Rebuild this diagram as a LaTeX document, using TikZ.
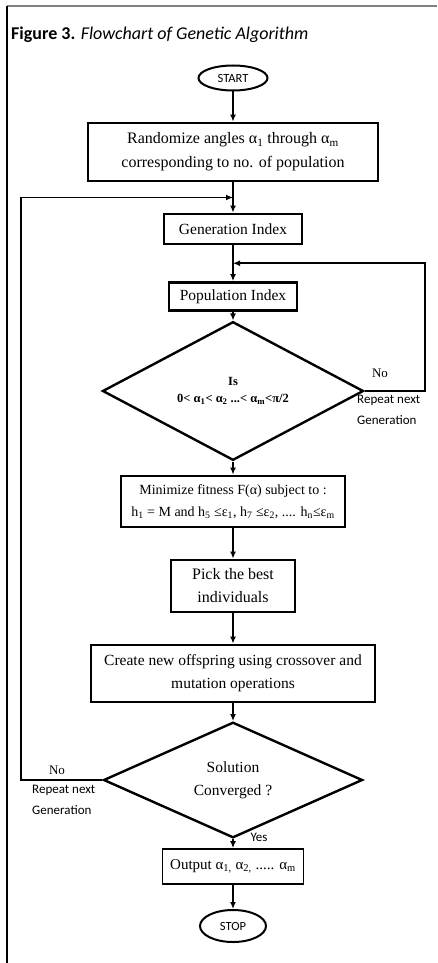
\documentclass[tikz,border=0pt]{standalone}
\usepackage{fontspec}
\setmainfont{Liberation Serif}
\newfontfamily\labelfont{Carlito}
\usetikzlibrary{shapes.geometric,arrows.meta,calc}
\tikzset{stepbox/.style={draw,line width=2.8pt,inner sep=0pt,align=center,font=\fontsize{15.5}{23}\selectfont}}
\tikzset{decision/.style={draw,diamond,line width=2.4pt,inner sep=0pt,align=center}}
\tikzset{terminal/.style={draw,ellipse,line width=2pt,inner sep=0pt,font=\labelfont\fontsize{12.5}{14}\selectfont}}
\tikzset{flow/.style={line width=1.8pt,-{Latex[length=7pt,width=6pt]}}}
\tikzset{remark/.style={inner sep=0pt,align=left,font=\labelfont\fontsize{13}{21}\selectfont}}

\begin{document}
\begin{tikzpicture}[x=1pt,y=-1pt]
	    \useasboundingbox (0,0) rectangle (438,963);
	    \draw[gray,line width=1.5pt] (7,6) -- (437,6);
	    \draw[line width=1.5pt] (7,6) -- (7,963);
	    \node[anchor=base west,inner sep=0pt,font=\labelfont\fontsize{18}{20}\selectfont] (title) at (11,40) {\textbf{Figure 3.} \textit{Flowchart of Genetic Algorithm}};
	    \node[terminal,minimum width=69,minimum height=25] (start) at (233,78) {START};
	    \node[stepbox,minimum width=290,minimum height=58,font=\fontsize{16}{24}\selectfont] (rand) at (233,152) {Randomize angles α\textsubscript{1} through α\textsubscript{m}\\corresponding to no. of population};
	    \node[stepbox,minimum width=138,minimum height=30] (gen) at (233,229) {Generation Index};
	    \node[stepbox,minimum width=128,minimum height=28] (pop) at (233,296.5) {Population Index};
	    \node[decision,minimum width=261,minimum height=88,font=\bfseries\fontsize{12.5}{17}\selectfont] (check) at (233,391) {Is\\0< α\textsubscript{1}< α\textsubscript{2} ...< α\textsubscript{m}<π/2};
	    \node[stepbox,minimum width=224,minimum height=51,font=\fontsize{14}{22}\selectfont] (fit) at (233,501.5) {Minimize fitness F(α) subject to :\\h\textsubscript{1} = M and h\textsubscript{5} ≤ε\textsubscript{1}, h\textsubscript{7} ≤ε\textsubscript{2}, .... h\textsubscript{n}≤ε\textsubscript{m}};
	    \node[stepbox,minimum width=124,minimum height=52,font=\fontsize{16}{23}\selectfont] (pick) at (233,586) {Pick the best\\individuals};
	    \node[stepbox,minimum width=284,minimum height=57] (create) at (233,673.5) {Create new offspring using crossover and\\mutation operations};
	    \node[decision,minimum width=259,minimum height=92,font=\fontsize{15.5}{23}\selectfont] (conv) at (233,780) {Solution\\Converged ?};
	    \node[stepbox,line width=1.8pt,minimum width=141,minimum height=35,font=\fontsize{15}{17}\selectfont] (out) at (233,866.5) {Output α\textsubscript{1,} α\textsubscript{2,} ..... α\textsubscript{m}};
	    \node[terminal,minimum width=66,minimum height=32] (stop) at (233,926) {STOP};
	    \draw[flow] (start) -- (rand);
	    \draw[flow] (rand) -- (gen);
	    \draw[flow] (gen) -- (pop);
	    \draw[flow] (pop) -- (check);
	    \draw[flow] (check) -- (fit);
	    \draw[flow] (fit) -- (pick);
	    \draw[flow] (pick) -- (create);
	    \draw[flow] (create) -- (conv);
	    \draw[flow] (conv) -- (out);
	    \draw[flow] (out) -- (stop);
	    \coordinate (back1) at ($(gen.south)!0.5!(pop.north)$);
	    \coordinate (back2) at ($(rand.south)!0.5!(gen.north)$);
	    \draw[flow] (check.east) -- ++(60,0) |- (back1);
	    \draw[flow] (conv.west) -- ++(-81,0) |- (back2);
	    \node[font=\fontsize{13}{15}\selectfont] (no1) at (380,373) {No};
	    \node[remark,anchor=north west] (rep1) at (357,395) {Repeat next\\Generation};
	    \node[font=\fontsize{13}{15}\selectfont] (no2) at (57,770) {No};
	    \node[remark,anchor=north west] (rep2) at (32,785) {Repeat next\\Generation};
	    \node[remark] (yes) at (259,837) {Yes};
        \end{tikzpicture}
\end{document}
